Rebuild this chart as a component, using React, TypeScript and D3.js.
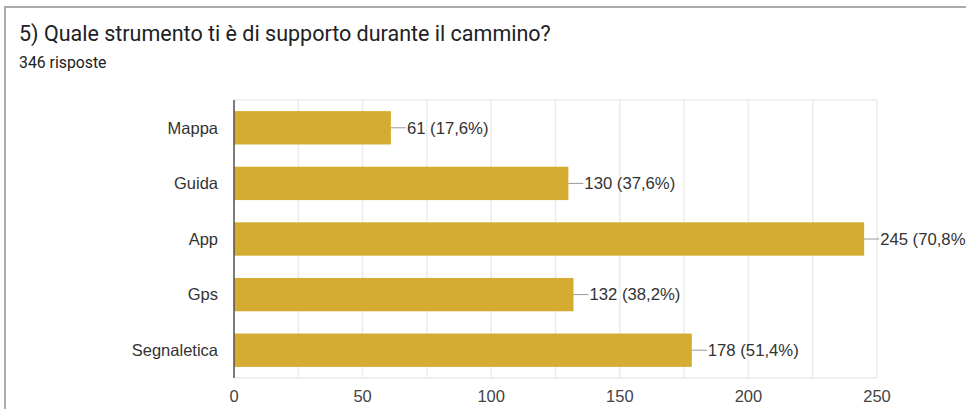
import React from "react";
import * as d3 from "d3";

const categories = ["Mappa", "Guida", "App", "Gps", "Segnaletica"];
const values = [61, 130, 245, 132, 178];
const percents = ["17,6%", "37,6%", "70,8%", "38,2%", "51,4%"];
const majorTicks = [0, 50, 100, 150, 200, 250];
const gridTicks = [0, 25, 50, 75, 100, 125, 150, 175, 200, 225, 250];

const W = 966;
const H = 409;
const M = { left: 234, right: 877, top: 100, bottom: 378 };

export default function App() {
  const x = d3.scaleLinear().domain([0, 250]).range([M.left, M.right]);
  const y = d3
    .scaleBand<string>()
    .domain(categories)
    .range([M.top, M.bottom])
    .paddingInner(0.4)
    .paddingOuter(0.2);
  const font = "'Liberation Sans', Arial, sans-serif";
  return (
    <svg
      width={W}
      height={H}
      style={{ position: "absolute", left: 0, top: 0, background: "#fff" }}
    >
      <line x1={4} x2={W} y1={7} y2={7} stroke="#aaa" strokeWidth={2} />
      <line x1={5} x2={5} y1={7} y2={H} stroke="#aaa" strokeWidth={2} />
      <text x={19} y={41} fontFamily="Roboto" fontSize={21.5} fill="#202124">
        5) Quale strumento ti è di supporto durante il cammino?
      </text>
      <text x={19} y={68} fontFamily="Roboto" fontSize={15.8} fill="#202124">
        346 risposte
      </text>
      {gridTicks.map((t) => (
        <line
          key={"g" + t}
          x1={x(t)}
          x2={x(t)}
          y1={M.top}
          y2={M.bottom}
          stroke="#ebebeb"
          strokeWidth={1.5}
        />
      ))}
      <line x1={M.left} x2={M.right} y1={M.top} y2={M.top} stroke="#ebebeb" strokeWidth={1.5} />
      <line x1={M.left} x2={M.right} y1={M.bottom} y2={M.bottom} stroke="#ebebeb" strokeWidth={1.5} />
      {categories.map((c, i) => {
        const by = y(c)!;
        const bh = y.bandwidth();
        const xe = x(values[i]);
        return (
          <g key={c}>
            <rect x={x(0)} y={by} width={xe - x(0)} height={bh} fill="#d4ac32" />
            <line x1={xe} x2={xe + 15} y1={by + bh / 2} y2={by + bh / 2} stroke="#999" strokeWidth={1} />
            <text
              x={xe + 16}
              y={by + bh / 2}
              dy="0.35em"
              fontFamily={font}
              fontSize={16.7}
              fill="#333"
            >
              {`${values[i]} (${percents[i]})`}
            </text>
            <text
              x={218}
              y={by + bh / 2}
              dy="0.35em"
              textAnchor="end"
              fontFamily={font}
              fontSize={16.5}
              fill="#333"
            >
              {c}
            </text>
          </g>
        );
      })}
      <line x1={x(0)} x2={x(0)} y1={M.top} y2={M.bottom} stroke="#555" strokeWidth={1.5} />
      {majorTicks.map((t) => (
        <text
          key={"t" + t}
          x={x(t)}
          y={402}
          textAnchor="middle"
          fontFamily={font}
          fontSize={16.5}
          fill="#444"
        >
          {t}
        </text>
      ))}
    </svg>
  );
}
